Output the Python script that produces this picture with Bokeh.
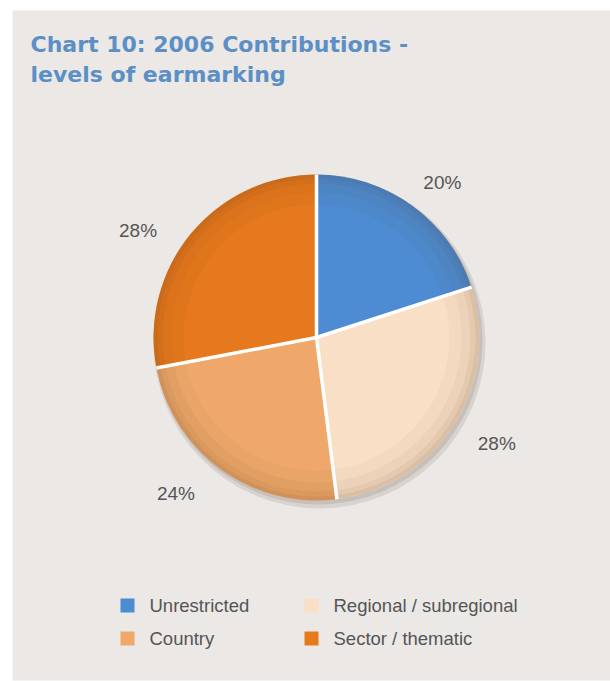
import math
from bokeh.plotting import figure
from bokeh.models import Range1d, ColumnDataSource
from bokeh.core.properties import value
from bokeh.embed import file_html
from bokeh.resources import INLINE

# ---- data ----
categories = ["Unrestricted", "Regional / subregional", "Country", "Sector / thematic"]
shares = [20, 28, 24, 28]
colors = ["#4d8bd2", "#f9dfc6", "#efa86a", "#e6791d"]
labels = ["20%", "28%", "24%", "28%"]
title_lines = ["Chart 10: 2006 Contributions -", "levels of earmarking"]

# label placement tweaks (layout only): angle offset in degrees (clockwise) and distance
label_angle_offset = [3, -2, 6, -8.7]
label_dist = [200, 209, 210, 208]

W, H = 610, 681
BG = "#ebe8e5"

p = figure(width=W, height=H, output_backend="svg", toolbar_location=None,
           x_range=Range1d(0, W), y_range=Range1d(0, H),
           min_border=0, background_fill_color="white", border_fill_color="white",
           outline_line_color=None)
p.axis.visible = False
p.grid.visible = False

def X(ix):
    return ix

def Y(iy):
    return H - iy

# textured panel background
p.quad(left=[X(12)], right=[X(610)], top=[Y(10)], bottom=[Y(680)], fill_color=BG, line_color=None)

cx, cy, R = X(316), Y(337), 163

# shadow
p.circle(x=[cx + 3], y=[cy - 5], radius=R + 3, fill_color="#b5ada5", fill_alpha=0.35, line_color=None)
p.circle(x=[cx + 2], y=[cy - 3], radius=R + 1, fill_color="#9c948c", fill_alpha=0.3, line_color=None)

total = float(sum(shares))
starts, ends, mids = [], [], []
cum = 0.0
for s in shares:
    a0 = math.pi / 2 - 2 * math.pi * cum / total
    cum += s
    a1 = math.pi / 2 - 2 * math.pi * cum / total
    starts.append(a0)
    ends.append(a1)
    mids.append((a0 + a1) / 2)

src = ColumnDataSource(dict(start=starts, end=ends, color=colors))
p.wedge(x=cx, y=cy, radius=R, start_angle="start", end_angle="end", direction="clock",
        fill_color="color", line_color=None, source=src)

# rim shading for a soft 3D look
for r0, a in [(R - 30, 0.035), (R - 18, 0.045), (R - 9, 0.055), (R - 4, 0.065)]:
    p.annulus(x=[cx], y=[cy], inner_radius=r0, outer_radius=R, fill_color="#5a3a20",
              fill_alpha=a, line_color=None)

# white separators
for a in starts:
    p.segment(x0=[cx], y0=[cy], x1=[cx + R * math.cos(a)], y1=[cy + R * math.sin(a)],
              line_color="white", line_width=3.5)

# percentage labels
lx, ly = [], []
for m, off, d in zip(mids, label_angle_offset, label_dist):
    ang = m - math.radians(off)
    lx.append(cx + d * math.cos(ang))
    ly.append(cy + d * math.sin(ang))
p.text(x=lx, y=ly, text=labels, text_align="center", text_baseline="middle",
       text_font=value("Liberation Sans"), text_font_size="19px", text_color="#555555")

# title
p.text(x=[X(30), X(30)], y=[Y(44), Y(74)], text=title_lines, text_align="left",
       text_baseline="middle", text_font=value("DejaVu Sans"), text_font_style="bold",
       text_font_size="22px", text_color="#5b8fc6")

# legend
col_x = [X(127), X(311), X(127), X(311)]
row_y = [Y(605), Y(605), Y(638), Y(638)]
p.rect(x=col_x, y=row_y, width=14, height=14, fill_color=colors, line_color=None)
p.text(x=[v + 22 for v in col_x], y=row_y, text=categories, text_align="left",
       text_baseline="middle", text_font=value("Liberation Sans"),
       text_font_size="18.5px", text_color="#555555")

open("out.html", "w").write(file_html(p, INLINE))
